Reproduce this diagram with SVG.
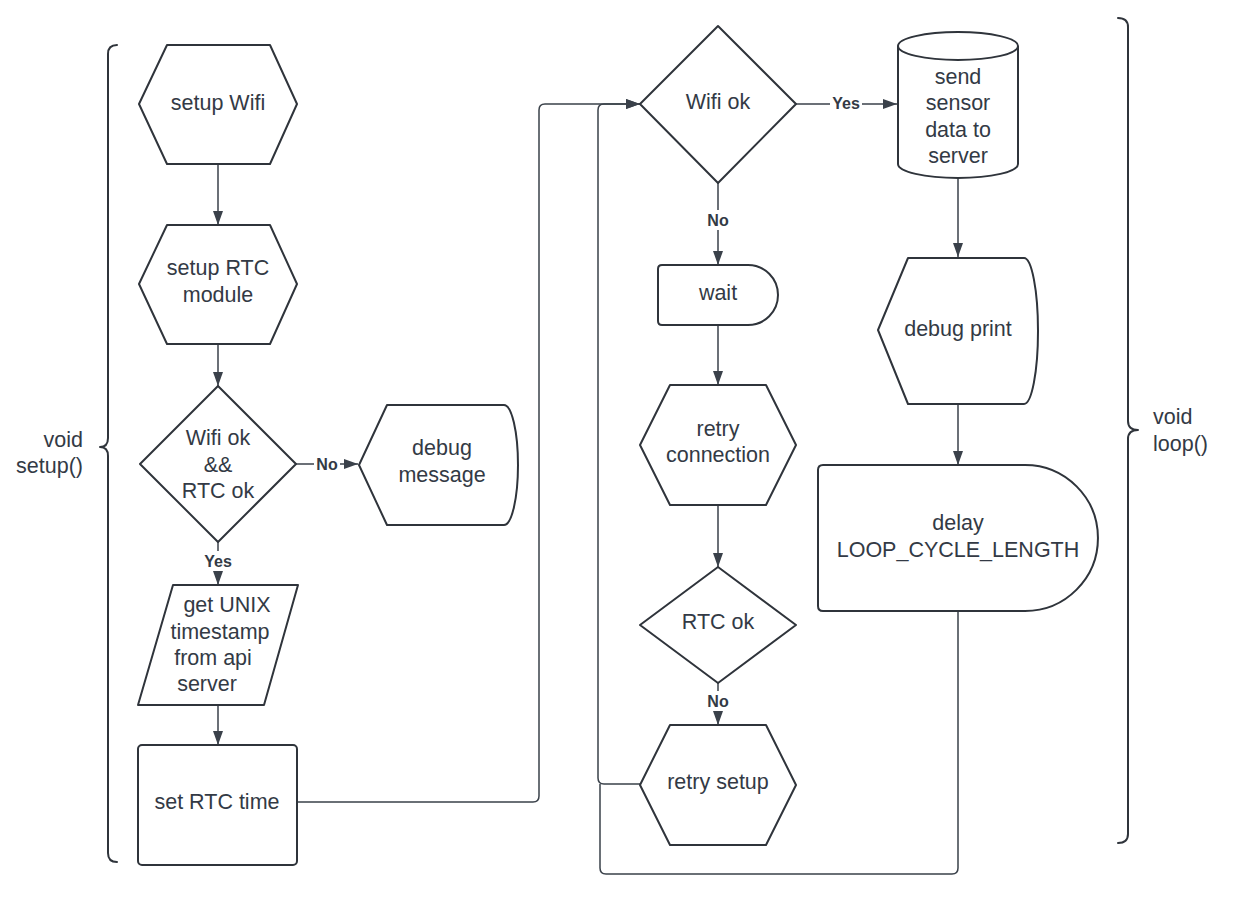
<svg xmlns="http://www.w3.org/2000/svg" width="1237" height="897" viewBox="0 0 1237 897">
<defs>
<marker id="arr" viewBox="0 0 14 10" refX="14" refY="5" markerWidth="14" markerHeight="10" markerUnits="userSpaceOnUse" orient="auto">
<path d="M0,0 L14,5 L0,10 Z" fill="#3a414a"/>
</marker>
<style>
.shape{fill:#ffffff;stroke:#2f343b;stroke-width:2;stroke-linejoin:round}
.conn{fill:none;stroke:#3a414a;stroke-width:1.5}
.arrow{marker-end:url(#arr)}
.t{font-family:"Liberation Sans",Arial,sans-serif;font-size:21.5px;fill:#333a45;text-anchor:middle;dominant-baseline:central}
.lbl{font-family:"Liberation Sans",Arial,sans-serif;font-size:16px;font-weight:bold;fill:#333a45;text-anchor:middle;dominant-baseline:central}
.brace{fill:none;stroke:#2f343b;stroke-width:2;stroke-linecap:round;stroke-linejoin:round}
.bg{fill:#ffffff}
</style>
</defs>
<rect width="1237" height="897" fill="#ffffff"/>

<g id="connectors">
<path class="conn arrow" d="M218,164 L218,225"/>
<path class="conn arrow" d="M218,344 L218,386"/>
<path class="conn arrow" d="M296,464 L358,464"/>
<path class="conn arrow" d="M218,542 L218,585"/>
<path class="conn arrow" d="M218,705 L218,745"/>
<path class="conn arrow" d="M297,802 L533,802 Q539,802 539,796 L539,110 Q539,104 545,104 L640,104"/>
<path class="conn arrow" d="M718,183 L718,265"/>
<path class="conn arrow" d="M718,325 L718,385"/>
<path class="conn arrow" d="M718,505 L718,567"/>
<path class="conn arrow" d="M718,683 L718,725"/>
<path class="conn arrow" d="M640,784 L604,784 Q598,784 598,778 L598,110 Q598,104 604,104 L640,104"/>
<path class="conn arrow" d="M796,104 L897,104"/>
<path class="conn arrow" d="M958,178 L958,257"/>
<path class="conn arrow" d="M958,404 L958,465"/>
<path class="conn" d="M958,611 L958,868 Q958,874 952,874 L606,874 Q600,874 600,868 L600,784"/>
<rect class="bg" x="314" y="454" width="26" height="20"/>
<text class="lbl" x="327" y="464">No</text>
<rect class="bg" x="202" y="551" width="32" height="20"/>
<text class="lbl" x="218" y="561">Yes</text>
<rect class="bg" x="705" y="210" width="26" height="20"/>
<text class="lbl" x="718" y="220">No</text>
<rect class="bg" x="705" y="691" width="26" height="20"/>
<text class="lbl" x="718" y="701">No</text>
<rect class="bg" x="830" y="94" width="32" height="20"/>
<text class="lbl" x="846" y="103">Yes</text>
</g>

<g id="setup-brace">
<path class="brace" d="M117,45 Q108,45 108,54 L108,438 Q108,447 100,447 Q108,447 108,456 L108,853 Q108,862 117,862"/>
<text class="t" x="83" y="440" style="text-anchor:end">void</text>
<text class="t" x="83" y="466" style="text-anchor:end">setup()</text>
</g>

<g id="loop-brace">
<path class="brace" d="M1118,18 Q1128,18 1128,27 L1128,421 Q1128,430 1138,430 Q1128,430 1128,439 L1128,834 Q1128,843 1118,843"/>
<text class="t" x="1153" y="417" style="text-anchor:start">void</text>
<text class="t" x="1153" y="444" style="text-anchor:start">loop()</text>
</g>

<g id="setup-wifi">
<polygon class="shape" points="139,104 167,45 270,45 297,104 270,164 167,164"/>
<text class="t" x="218" y="103">setup Wifi</text>
</g>

<g id="setup-rtc">
<polygon class="shape" points="139,284 167,225 270,225 297,284 270,344 167,344"/>
<text class="t" x="218" y="268">setup RTC</text>
<text class="t" x="218" y="295">module</text>
</g>

<g id="check-wifi-rtc">
<polygon class="shape" points="218,386 296,464 218,542 140,464"/>
<text class="t" x="218" y="438">Wifi ok</text>
<text class="t" x="218" y="465">&amp;&amp;</text>
<text class="t" x="218" y="491">RTC ok</text>
</g>

<g id="debug-message">
<path class="shape" d="M359,465 L387,405 L504,405 A14 60 0 0 1 504,525 L387,525 Z"/>
<text class="t" x="442" y="448">debug</text>
<text class="t" x="442" y="475">message</text>
</g>

<g id="get-timestamp">
<polygon class="shape" points="173,585 298,585 264,705 138,705"/>
<text class="t" x="227" y="605">get UNIX</text>
<text class="t" x="220" y="632">timestamp</text>
<text class="t" x="213" y="658">from api</text>
<text class="t" x="207" y="684">server</text>
</g>

<g id="set-rtc-time">
<rect class="shape" x="138" y="745" width="159" height="120" rx="4"/>
<text class="t" x="217" y="802">set RTC time</text>
</g>

<g id="wifi-ok">
<polygon class="shape" points="718,26 796,104 718,183 640,104"/>
<text class="t" x="718" y="102">Wifi ok</text>
</g>

<g id="wait">
<path class="shape" d="M662,265 L748,265 A30 30 0 0 1 748,325 L662,325 Q658,325 658,321 L658,269 Q658,265 662,265 Z"/>
<text class="t" x="718" y="293">wait</text>
</g>

<g id="retry-connection">
<polygon class="shape" points="640,445 670,385 766,385 796,445 766,505 670,505"/>
<text class="t" x="718" y="429">retry</text>
<text class="t" x="718" y="455">connection</text>
</g>

<g id="rtc-ok">
<polygon class="shape" points="718,567 796,625 718,683 640,625"/>
<text class="t" x="718" y="622">RTC ok</text>
</g>

<g id="retry-setup">
<polygon class="shape" points="640,785 670,725 766,725 796,785 766,845 670,845"/>
<text class="t" x="718" y="782">retry setup</text>
</g>

<g id="send-data">
<path class="shape" d="M898,46 L898,164 A60 14 0 0 0 1018,164 L1018,46 A60 14 0 0 0 898,46 Z"/>
<path class="shape" d="M898,46 A60 14 0 0 0 1018,46" style="fill:none"/>
<text class="t" x="958" y="77">send</text>
<text class="t" x="958" y="103">sensor</text>
<text class="t" x="958" y="130">data to</text>
<text class="t" x="958" y="156">server</text>
</g>

<g id="debug-print">
<path class="shape" d="M878,330 L908,258 L1024,258 A14 73 0 0 1 1024,404 L908,404 Z"/>
<text class="t" x="958" y="329">debug print</text>
</g>

<g id="delay">
<path class="shape" d="M823,465 L1025,465 A73 73 0 0 1 1025,611 L823,611 Q818,611 818,606 L818,470 Q818,465 823,465 Z"/>
<text class="t" x="958" y="523">delay</text>
<text class="t" x="958" y="550">LOOP_CYCLE_LENGTH</text>
</g>
</svg>
